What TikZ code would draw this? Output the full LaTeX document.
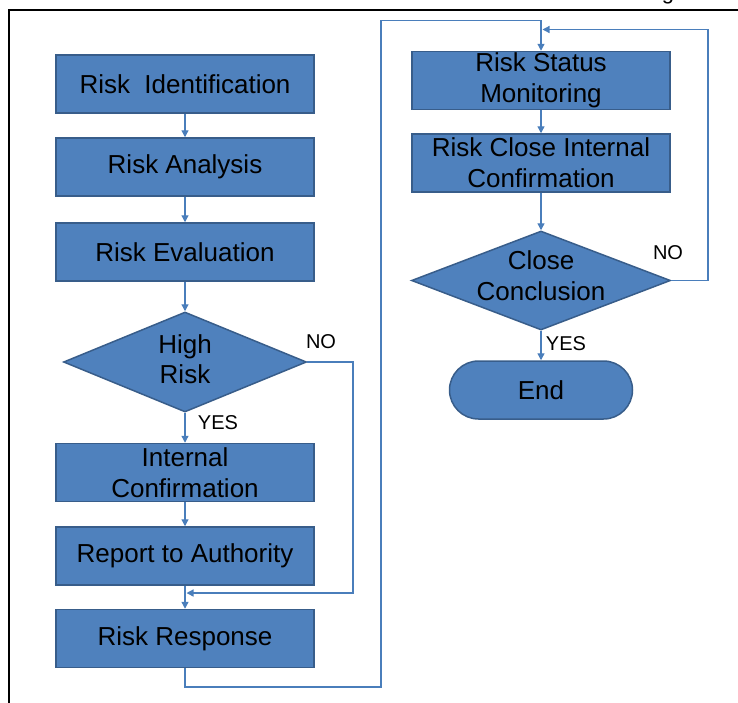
\documentclass[tikz,border=0pt]{standalone}
\usepackage{fontspec}
\setmainfont{Liberation Sans}
\usetikzlibrary{shapes.geometric,arrows.meta}
\definecolor{boxfill}{HTML}{4F81BD}
\definecolor{boxline}{HTML}{385D8A}
\definecolor{conn}{HTML}{4A7EBB}
\tikzset{
  procbox/.style={draw=boxline, fill=boxfill, line width=1.5pt, rectangle,
    minimum width=258pt, minimum height=58pt, inner sep=0pt, align=center,
    font=\fontsize{26}{31}\selectfont, text=black},
  decis/.style={draw=boxline, fill=boxfill, line width=1.5pt, diamond,
    minimum width=243pt, minimum height=100pt, inner sep=0pt},
  dtext/.style={align=center, inner sep=0pt, font=\fontsize{26}{30}\selectfont, text=black},
  termin/.style={draw=boxline, fill=boxfill, line width=1.5pt, rectangle,
    rounded corners=29pt, minimum width=183pt, minimum height=58pt, inner sep=0pt,
    font=\fontsize{26}{31}\selectfont, text=black},
  flow/.style={draw=conn, line width=1.3pt},
  arr/.style={flow, -{Triangle[length=7pt,width=7pt]}},
  lbl/.style={font=\fontsize{20}{24}\selectfont, text=black, inner sep=0pt},
}
\begin{document}
\begin{tikzpicture}[x=1pt,y=-1pt]
\useasboundingbox (0,0) rectangle (738,702);
\clip (0,0) rectangle (738,702);
% frame
\draw[black, line width=2pt] (9,720) -- (9,10) -- (750,10);
\node[font=\fontsize{22}{24}\selectfont, anchor=base, inner sep=0pt] (gfrag) at (668,-1) {g};
% left column
\node[procbox] (ri) at (185,84) {Risk\ \ Identification};
\node[procbox] (ra) at (185,167) {Risk Analysis};
\node[procbox] (re) at (185,252) {Risk Evaluation};
\node[decis] (hr) at (185,362) {};
\node[dtext] (hrt) at (185,359) {High\\Risk};
\node[procbox] (ic) at (185,472.5) {Internal\\Confirmation};
\node[procbox] (rta) at (185,556) {Report to Authority};
\node[procbox] (rr) at (185,638.5) {Risk Response};
% right column
\node[procbox] (rs) at (541,80.5) {Risk Status\\Monitoring};
\node[procbox] (rci) at (541,163) {Risk Close Internal\\Confirmation};
\node[decis, minimum width=259pt, minimum height=99pt] (cc) at (541,280.5) {};
\node[dtext, font=\fontsize{26}{31}\selectfont] (cct) at (541,276) {Close\\Conclusion};
\node[termin] (en) at (541,390) {End};
% coordinates for connector bends
\coordinate (j1) at (186.5,593);
\coordinate (n1) at (353,362);
\coordinate (c1) at (381,687);
\coordinate (c2) at (381,20.5);
\coordinate (n2) at (708,280.5);
\coordinate (j2) at (542.5,29.5);
% connectors
\draw[arr] (ri.south) -- (ra.north);
\draw[arr] (ra.south) -- (re.north);
\draw[arr] (re.south) -- (hr.north);
\draw[arr] (hr.south) -- (ic.north);
\draw[arr] (ic.south) -- (rta.north);
\draw[arr] (rta.south) -- (rr.north);
\draw[arr] (hr.east) -- (n1) |- (j1);
\draw[arr] (rr.south) |- (c1) -- (c2) -| (rs.north);
\draw[arr] (rs.south) -- (rci.north);
\draw[arr] (rci.south) -- (cc.north);
\draw[arr] (cc.east) -- (n2) |- (j2);
\draw[arr] (cc.south) -- (en.north);
% labels
\node[lbl] (lno1) at (321,342) {NO};
\node[lbl] (lyes1) at (218,423) {YES};
\node[lbl] (lno2) at (668,253) {NO};
\node[lbl] (lyes2) at (566,344) {YES};
\end{tikzpicture}
\end{document}
